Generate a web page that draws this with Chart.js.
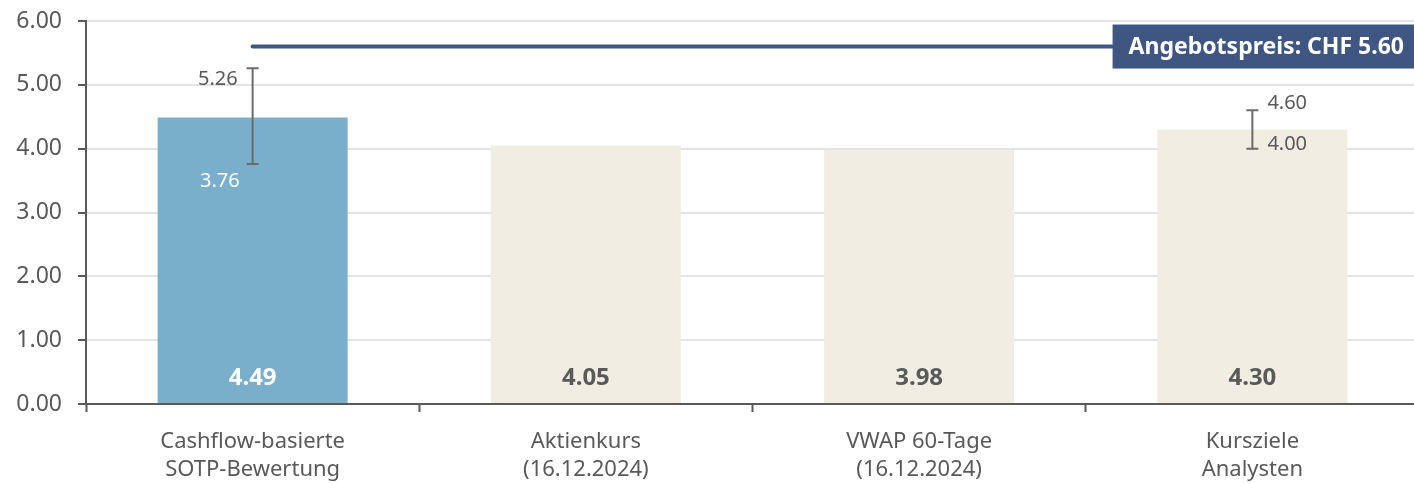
<!DOCTYPE html>
<html>
<head>
<meta charset="utf-8">
<script src="https://cdn.jsdelivr.net/npm/chart.js@4"></script>
<style>
  html, body { margin: 0; padding: 0; background: #fff; overflow: hidden; }
  #wrap { width: 1420px; height: 484px; }
</style>
</head>
<body>
<div id="wrap"><canvas id="myChart"></canvas></div>
<script>
const categories = [
    ['Cashflow-basierte', 'SOTP-Bewertung'],
    ['Aktienkurs', '(16.12.2024)'],
    ['VWAP 60-Tage', '(16.12.2024)'],
    ['Kursziele', 'Analysten']
];
const values = [4.49, 4.05, 3.98, 4.30];
const rangeLow = [3.76, null, null, 4.00];
const rangeHigh = [5.26, null, null, 4.60];
const offerPrice = 5.60;
const offerLabel = 'Angebotspreis: CHF 5.60';
const yTicks = [0, 1, 2, 3, 4, 5, 6];

const FONT = "'Noto Sans', 'Open Sans', sans-serif";
const GREY = '#595959';

// error bars, value labels and the offer line
const overlay = {
    id: 'overlay',
    afterDatasetsDraw(chart) {
        const ctx = chart.ctx;
        const y = chart.scales.y;
        const bars = chart.getDatasetMeta(0).data;
        ctx.save();

        // values inside the bars
        ctx.font = 'bold 24px ' + FONT;
        ctx.textAlign = 'center';
        ctx.textBaseline = 'middle';
        bars.forEach((bar, i) => {
            ctx.fillStyle = i === 0 ? '#ffffff' : GREY;
            ctx.fillText(values[i].toFixed(2), bar.x, y.getPixelForValue(0) - 26);
        });

        // ranges
        ctx.strokeStyle = '#6b6b6b';
        ctx.lineWidth = 2;
        ctx.font = '20px ' + FONT;
        bars.forEach((bar, i) => {
            if (rangeLow[i] == null) return;
            const top = y.getPixelForValue(rangeHigh[i]);
            const bot = y.getPixelForValue(rangeLow[i]);
            ctx.beginPath();
            ctx.moveTo(bar.x, top); ctx.lineTo(bar.x, bot);
            ctx.moveTo(bar.x - 6, top); ctx.lineTo(bar.x + 6, top);
            ctx.moveTo(bar.x - 6, bot); ctx.lineTo(bar.x + 6, bot);
            ctx.stroke();
            if (i === 0) {
                ctx.textAlign = 'right';
                ctx.fillStyle = GREY;
                ctx.fillText(rangeHigh[i].toFixed(2), bar.x - 15, top + 11);
                ctx.fillStyle = '#ffffff';
                ctx.fillText(rangeLow[i].toFixed(2), bar.x - 13, bot + 17);
            } else {
                ctx.textAlign = 'left';
                ctx.fillStyle = GREY;
                ctx.fillText(rangeHigh[i].toFixed(2), bar.x + 15, top - 7);
                ctx.fillText(rangeLow[i].toFixed(2), bar.x + 15, bot - 4);
            }
        });

        // offer price line + label box
        const py = y.getPixelForValue(offerPrice);
        ctx.font = 'bold 23px ' + FONT;
        const tw = ctx.measureText(offerLabel).width;
        const boxRight = 1414;
        const boxLeft = boxRight - tw - 26;
        ctx.strokeStyle = '#3f5683';
        ctx.lineWidth = 4;
        ctx.lineCap = 'round';
        ctx.beginPath();
        ctx.moveTo(bars[0].x, py);
        ctx.lineTo(boxLeft, py);
        ctx.stroke();
        ctx.fillStyle = '#3f5683';
        ctx.fillRect(boxLeft, py - 22, boxRight - boxLeft, 44);
        ctx.fillStyle = '#ffffff';
        ctx.textAlign = 'left';
        ctx.fillText(offerLabel, boxLeft + 16, py + 1);
        ctx.restore();
    }
};

const ctx = document.getElementById('myChart').getContext('2d');
new Chart(ctx, {
    type: 'bar',
    data: {
        labels: categories,
        datasets: [{
            data: values,
            backgroundColor: ['#7aafcb', '#f1ede3', '#f1ede3', '#f1ede3'],
            barPercentage: 0.57,
            categoryPercentage: 1
        }]
    },
    options: {
        responsive: true,
        maintainAspectRatio: false,
        animation: false,
        layout: { padding: { top: 21, right: 1, left: 0, bottom: 0 } },
        plugins: { legend: { display: false }, tooltip: { enabled: false } },
        scales: {
            x: {
                grid: { drawOnChartArea: false, offset: true, tickLength: 8, tickColor: GREY, tickWidth: 2 },
                border: { color: GREY, width: 2 },
                ticks: { color: GREY, padding: 15, font: { family: FONT, size: 22, lineHeight: 1.3 } },
                afterFit(scale) { scale.height = 80; scale.paddingLeft = 0; scale.paddingRight = 0; }
            },
            y: {
                min: 0,
                max: 6,
                afterBuildTicks(scale) { scale.ticks = yTicks.map(v => ({ value: v })); },
                grid: { color: '#e3e3e3', lineWidth: 2, tickLength: 8, tickColor: GREY, tickWidth: 2 },
                border: { color: GREY, width: 2 },
                ticks: {
                    color: GREY,
                    padding: 16,
                    font: { family: FONT, size: 23 },
                    callback: v => v.toFixed(2)
                },
                afterFit(scale) { scale.width = 86; scale.paddingTop = 0; scale.paddingBottom = 0; }
            }
        }
    },
    plugins: [overlay]
});
</script>
</body>
</html>
